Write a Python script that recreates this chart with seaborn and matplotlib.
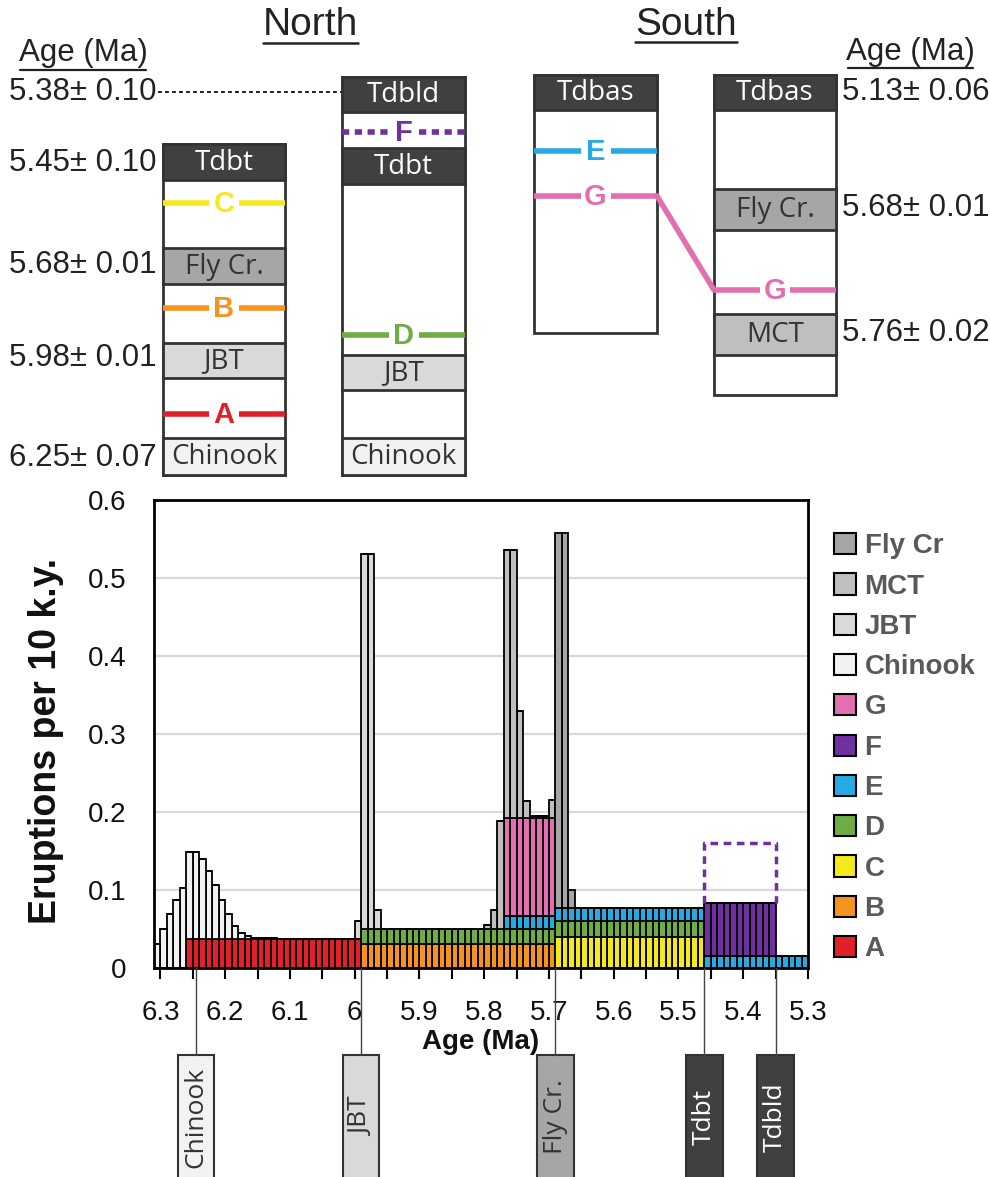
import numpy as np
import pandas as pd
import matplotlib
matplotlib.use("Agg")
import matplotlib.pyplot as plt
import matplotlib.transforms as mtransforms
from matplotlib.patches import Rectangle, Patch
from matplotlib.ticker import FixedLocator
import seaborn as sns

# ------------------------------------------------------------------
# Histogram data: eruptions per 10 k.y. in 0.01 Ma bins
# each series: centre age of its first (oldest) bin + values for successive younger bins
# ------------------------------------------------------------------
bin_width = 0.01
age_old, age_young = 6.31, 5.30

chinook_start = 6.305
chinook_vals = [0.031, 0.050, 0.069, 0.087, 0.103, 0.112, 0.112, 0.103, 0.087, 0.069,
                0.050, 0.032, 0.017, 0.008, 0.004, 0.002, 0.001, 0.001, 0.001]
a_start = 6.255
a_vals = [0.037, 0.037, 0.037, 0.037, 0.037, 0.037, 0.037, 0.037, 0.037, 0.037,
          0.037, 0.037, 0.037, 0.037, 0.037, 0.037, 0.037, 0.037, 0.037, 0.037,
          0.037, 0.037, 0.037, 0.037, 0.037, 0.037, 0.037]
jbt_start = 5.995
jbt_vals = [0.023, 0.481, 0.481, 0.025]
b_start = 5.985
b_vals = [0.031, 0.031, 0.031, 0.031, 0.031, 0.031, 0.031, 0.031, 0.031, 0.031,
          0.031, 0.031, 0.031, 0.031, 0.031, 0.031, 0.031, 0.031, 0.031, 0.031,
          0.031, 0.031, 0.031, 0.031, 0.031, 0.031, 0.031, 0.031, 0.031, 0.031]
d_start = 5.985
d_vals = [0.019, 0.019, 0.019, 0.019, 0.019, 0.019, 0.019, 0.019, 0.019, 0.019,
          0.019, 0.019, 0.019, 0.019, 0.019, 0.019, 0.019, 0.019, 0.019, 0.019,
          0.019, 0.019, 0.019, 0.019, 0.019, 0.019, 0.019, 0.019, 0.019, 0.019,
          0.020, 0.020, 0.020, 0.020, 0.020, 0.020, 0.020, 0.020, 0.020, 0.020,
          0.020, 0.020, 0.020, 0.020, 0.020, 0.020, 0.020, 0.020, 0.020, 0.020,
          0.020, 0.020, 0.020]
mct_start = 5.795
mct_vals = [0.005, 0.024, 0.138, 0.344, 0.344, 0.137, 0.022, 0.003, 0.003, 0.003, 0.024]
g_start = 5.765
g_vals = [0.125, 0.125, 0.125, 0.125, 0.125, 0.125, 0.125, 0.125]
e_start = 5.765
e_vals = [0.017, 0.017, 0.017, 0.017, 0.017, 0.017, 0.017, 0.017, 0.017, 0.017,
          0.017, 0.017, 0.017, 0.017, 0.017, 0.017, 0.017, 0.017, 0.017, 0.017,
          0.017, 0.017, 0.017, 0.017, 0.017, 0.017, 0.017, 0.017, 0.017, 0.017,
          0.017, 0.015, 0.015, 0.015, 0.015, 0.015, 0.015, 0.015, 0.015, 0.015,
          0.015, 0.015, 0.015, 0.015, 0.015, 0.015, 0.015]
c_start = 5.685
c_vals = [0.040, 0.040, 0.040, 0.040, 0.040, 0.040, 0.040, 0.040, 0.040, 0.040,
          0.040, 0.040, 0.040, 0.040, 0.040, 0.040, 0.040, 0.040, 0.040, 0.040,
          0.040, 0.040, 0.040]
flycr_start = 5.685
flycr_vals = [0.481, 0.481, 0.023]
f_start = 5.455
f_vals = [0.068, 0.068, 0.068, 0.068, 0.068, 0.068, 0.068, 0.068, 0.068, 0.068, 0.068]
# dashed outline above F (maximum estimate)
f_outline_ages = [5.46, 5.35]
f_outline_top = 0.160

legend_order = ["Fly Cr", "MCT", "JBT", "Chinook", "G", "F", "E", "D", "C", "B", "A"]
palette = {"Fly Cr": "#A5A5A5", "MCT": "#BFBFBF", "JBT": "#D9D9D9", "Chinook": "#F2F2F2",
           "G": "#E26FB0", "F": "#7030A0", "E": "#27AAE1", "D": "#6FAC46",
           "C": "#F4E81F", "B": "#F6921E", "A": "#E2202A"}

y_ticks = [0, 0.1, 0.2, 0.3, 0.4, 0.5, 0.6]
y_tick_labels = ["0", "0.1", "0.2", "0.3", "0.4", "0.5", "0.6"]
x_ticks = [6.3, 6.2, 6.1, 6.0, 5.9, 5.8, 5.7, 5.6, 5.5, 5.4, 5.3]
x_tick_labels = ["6.3", "6.2", "6.1", "6", "5.9", "5.8", "5.7", "5.6", "5.5", "5.4", "5.3"]
x_minor_ticks = [6.25, 6.15, 6.05, 5.95, 5.85, 5.75, 5.65, 5.55, 5.45, 5.35]

# markers under the histogram
marker_names = ["Chinook", "JBT", "Fly Cr.", "Tdbt", "Tdbld"]
marker_ages = [6.245, 5.99, 5.69, 5.46, 5.35]

series = {"Chinook": (chinook_start, chinook_vals), "A": (a_start, a_vals),
          "JBT": (jbt_start, jbt_vals), "B": (b_start, b_vals), "D": (d_start, d_vals),
          "MCT": (mct_start, mct_vals), "G": (g_start, g_vals), "E": (e_start, e_vals),
          "C": (c_start, c_vals), "Fly Cr": (flycr_start, flycr_vals), "F": (f_start, f_vals)}

rows = []
for name, (start, vals) in series.items():
    for i, v in enumerate(vals):
        rows.append({"age": round(start - bin_width * i, 3), "rate": v, "series": name})
df = pd.DataFrame(rows)
edges = [round(float(e), 2) for e in np.linspace(age_young, age_old, 102)]

# ------------------------------------------------------------------
sns.set_theme(style="white")
plt.rcParams["font.family"] = ["Liberation Sans", "DejaVu Sans"]
W, H = 990, 1177
fig = plt.figure(figsize=(W / 100, H / 100), dpi=100)
fig.patch.set_facecolor("white")

ax = fig.add_axes([154 / W, 1 - 968 / H, (808 - 154) / W, (968 - 500) / H])
sns.histplot(data=df, x="age", weights="rate", hue="series", hue_order=legend_order,
             multiple="stack", bins=edges, palette=palette, edgecolor="black",
             linewidth=1.3, alpha=1, legend=False, shrink=1, ax=ax)

# dashed outline of F maximum
f_top_now = max(f_vals) + e_vals[-1]
ax.plot([f_outline_ages[0], f_outline_ages[0], f_outline_ages[1], f_outline_ages[1]],
        [f_top_now, f_outline_top, f_outline_top, f_top_now],
        color="#7030A0", lw=2.5, ls=(0, (2.2, 1.6)), zorder=5)

ax.set_xlim(age_old, age_young)
ax.set_ylim(0, 0.6)
ax.set_yticks(y_ticks)
ax.set_yticklabels(y_tick_labels)
ax.set_xticks(x_ticks)
ax.set_xticklabels(x_tick_labels)
ax.xaxis.set_minor_locator(FixedLocator(x_minor_ticks))
ax.tick_params(axis="x", which="both", bottom=True, direction="out", length=8,
               width=1.5, color="black", pad=15, labelsize=20, labelcolor="#111111")
ax.tick_params(axis="y", length=0, pad=20, labelsize=20, labelcolor="#111111")
ax.set_axisbelow(True)
ax.yaxis.grid(True, color="#D9D9D9", lw=1.6)
ax.xaxis.grid(False)
for s in ax.spines.values():
    s.set_color("black")
    s.set_linewidth(2)
ax.set_ylabel("Eruptions per 10 k.y.", fontsize=27, fontweight="bold", color="#111111")
ax.yaxis.set_label_coords(-0.137, 0.485)
ax.set_xlabel("Age (Ma)", fontsize=20, fontweight="bold", color="#111111")
ax.xaxis.set_label_coords(0.5, -0.13)

handles = [Patch(facecolor=palette[n], edgecolor="black", linewidth=1.5, label=n) for n in legend_order]
leg = fig.legend(handles=handles, loc="upper left", bbox_to_anchor=(834 / W, 1 - 533 / H),
                 frameon=False, fontsize=20, handlelength=0.8, handleheight=0.8,
                 handletextpad=0.3, labelspacing=0.505, borderpad=0, borderaxespad=0)
for t in leg.get_texts():
    t.set_color("#595959")
    t.set_fontweight("bold")

# ------------------------------------------------------------------
# overlay in pixel coordinates for the stratigraphic sketch
ov = fig.add_axes([0, 0, 1, 1])
ov.set_xlim(0, W)
ov.set_ylim(H, 0)
ov.axis("off")

dark = "#404040"
unit_fill = {"Tdbt": dark, "Tdbld": dark, "Tdbas": dark, "Fly Cr.": "#A6A6A6",
             "MCT": "#BFBFBF", "JBT": "#D9D9D9", "Chinook": "#F2F2F2"}
txt_dark = "#222222"

# marker boxes under the histogram (x in age, y in pixels)
trans = mtransforms.blended_transform_factory(ax.transData, ov.transData)
box_w = 0.056
for name, age in zip(marker_names, marker_ages):
    ov.plot([age, age], [968, 1055], transform=trans, color="#444444", lw=1, clip_on=False, zorder=6)
    ov.add_patch(Rectangle((age - box_w / 2, 1055), box_w, 140, transform=trans,
                           facecolor=unit_fill[name], edgecolor="#333333", lw=1.5, clip_on=False))
    ov.text(age, 1117, name, transform=trans, rotation=90, ha="center", va="center",
            fontsize=19, family="Open Sans",
            color="white" if unit_fill[name] == dark else "#333333")

strat_columns = [
    {"x": (163, 285), "y": (144, 475),
     "units": [("Tdbt", 144, 180), ("Fly Cr.", 248, 284), ("JBT", 343, 378), ("Chinook", 438, 475)],
     "horizons": [("C", 203, palette["C"], "-"), ("B", 308, palette["B"], "-"), ("A", 414, palette["A"], "-")]},
    {"x": (342, 465), "y": (77, 475),
     "units": [("Tdbld", 77, 112), ("Tdbt", 148, 184), ("JBT", 355, 390), ("Chinook", 438, 475)],
     "horizons": [("F", 132, palette["F"], ":"), ("D", 335, palette["D"], "-")]},
    {"x": (534, 657), "y": (75, 333),
     "units": [("Tdbas", 75, 110)],
     "horizons": [("E", 151, palette["E"], "-"), ("G", 196, palette["G"], "-")]},
    {"x": (714, 836), "y": (75, 395),
     "units": [("Tdbas", 75, 110), ("Fly Cr.", 189, 230), ("MCT", 314, 355)],
     "horizons": [("G", 290, palette["G"], "-")]},
]

gap = 15
for col in strat_columns:
    x0, x1 = col["x"]
    y0, y1 = col["y"]
    xc = (x0 + x1) / 2
    ov.add_patch(Rectangle((x0, y0), x1 - x0, y1 - y0, facecolor="white", edgecolor="#333333", lw=2, zorder=1))
    for name, t, b in col["units"]:
        ov.add_patch(Rectangle((x0, t), x1 - x0, b - t, facecolor=unit_fill[name], edgecolor="#333333", lw=2, zorder=2))
        ov.text(xc, (t + b) / 2 + 1, name, ha="center", va="center", fontsize=20,
                family="Open Sans", color="white" if unit_fill[name] == dark else "#333333", zorder=3)
    for letter, y, c, ls in col["horizons"]:
        lsty = (0, (1.3, 1.0)) if ls == ":" else "-"
        ov.plot([x0, xc - gap], [y, y], color=c, lw=4, ls=lsty, solid_capstyle="butt", zorder=3)
        ov.plot([xc + gap, x1], [y, y], color=c, lw=4, ls=lsty, solid_capstyle="butt", zorder=3)
        ov.text(xc, y + 1, letter, ha="center", va="center", fontsize=21,
                fontweight="bold", color=c, zorder=4)

# G correlation between the two southern columns
ov.plot([657, 714], [196, 290], color=palette["G"], lw=4, zorder=3, solid_capstyle="round")
# dotted line to Tdbld age
ov.plot([158, 342], [92, 92], color="#222222", lw=1.4, ls=(0, (2, 1.6)), zorder=1)

left_ages = ["5.38± 0.10", "5.45± 0.10", "5.68± 0.01", "5.98± 0.01", "6.25± 0.07"]
left_y = [92, 163, 265, 358, 458]
right_ages = ["5.13± 0.06", "5.68± 0.01", "5.76± 0.02"]
right_y = [92, 208, 333]
for s, y in zip(left_ages, left_y):
    ov.text(9, y, s, ha="left", va="center", fontsize=22.5, color=txt_dark)
for s, y in zip(right_ages, right_y):
    ov.text(842, y, s, ha="left", va="center", fontsize=22.5, color=txt_dark)

ov.text(310, 25, "North", ha="center", va="center", fontsize=28, color=txt_dark)
ov.plot([263, 358], [43, 43], color=txt_dark, lw=1.8)
ov.text(686, 25, "South", ha="center", va="center", fontsize=28, color=txt_dark)
ov.plot([635, 737], [42, 42], color=txt_dark, lw=1.8)
ov.text(83, 53, "Age (Ma)", ha="center", va="center", fontsize=22.5, color=txt_dark)
ov.plot([20, 146], [70, 70], color=txt_dark, lw=1.6)
ov.text(910, 52, "Age (Ma)", ha="center", va="center", fontsize=22.5, color=txt_dark)
ov.plot([848, 973], [68, 68], color=txt_dark, lw=1.6)

fig.savefig("out.png", dpi=100, facecolor="white")
